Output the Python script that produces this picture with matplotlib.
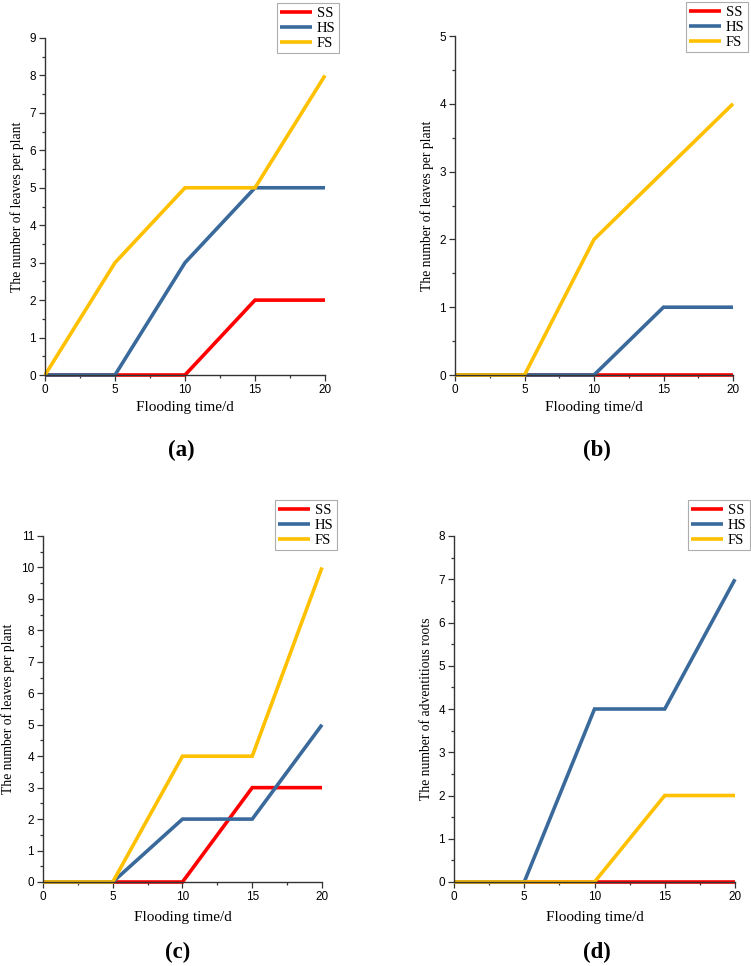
import matplotlib
matplotlib.use("Agg")
import matplotlib.pyplot as plt
from matplotlib.ticker import MultipleLocator

days = [0, 5, 10, 15, 20]
series_names = ["SS", "HS", "FS"]
colors = ["#FF0000", "#3A6A9C", "#FFC000"]

a_SS = [0, 0, 0, 2, 2]
a_HS = [0, 0, 3, 5, 5]
a_FS = [0, 3, 5, 5, 8]

b_SS = [0, 0, 0, 0, 0]
b_HS = [0, 0, 0, 1, 1]
b_FS = [0, 0, 2, 3, 4]

c_SS = [0, 0, 0, 3, 3]
c_HS = [0, 0, 2, 2, 5]
c_FS = [0, 0, 4, 4, 10]

d_SS = [0, 0, 0, 0, 0]
d_HS = [0, 0, 4, 4, 7]
d_FS = [0, 0, 0, 2, 2]

W, H = 751, 966
fig = plt.figure(figsize=(W / 100, H / 100), dpi=100)

serif = ["Liberation Serif", "DejaVu Serif"]
sans = ["Liberation Sans", "DejaVu Sans"]

panels = [
    # axes px (left, right, top, bottom), ymax, ylabel, data, tag, legend top-right px, tag (x,y), xlabel y
    ((45, 325, 38, 375), 9, "The number of leaves per plant", (a_SS, a_HS, a_FS), "(a)", (339, 3), (181, 450), 408),
    ((455, 733, 36, 375), 5, "The number of leaves per plant", (b_SS, b_HS, b_FS), "(b)", (748, 2), (597, 450), 408),
    ((43, 322, 536, 882), 11, "The number of leaves per plant", (c_SS, c_HS, c_FS), "(c)", (337, 500), (178, 952), 917),
    ((454, 735, 536, 882), 8, "The number of adventitious roots", (d_SS, d_HS, d_FS), "(d)", (750, 500), (597, 952), 917),
]

for (l, r, t, b), ymax, ylab, data, tag, lg, tagxy, xly in panels:
    ax = fig.add_axes([l / W, 1 - b / H, (r - l) / W, (b - t) / H])
    handles = []
    for name, vals, col in zip(series_names, data, colors):
        h, = ax.plot(days, vals, color=col, lw=2.6, label=name, solid_capstyle="butt",
                     solid_joinstyle="miter", clip_on=False)
        handles.append(h)
    ax.set_xlim(0, 20)
    ax.set_ylim(0, ymax)
    ax.xaxis.set_major_locator(MultipleLocator(5))
    ax.xaxis.set_minor_locator(MultipleLocator(2.5))
    ax.yaxis.set_major_locator(MultipleLocator(1))
    ax.yaxis.set_minor_locator(MultipleLocator(0.5))
    for s in ["top", "right"]:
        ax.spines[s].set_visible(False)
    for s in ["left", "bottom"]:
        ax.spines[s].set_color("#333333")
        ax.spines[s].set_linewidth(1.0)
    ax.tick_params(which="major", direction="out", length=4, width=0.9, color="#333333",
                   labelsize=8.5, pad=2.5)
    ax.tick_params(which="minor", direction="out", length=2.5, width=0.9, color="#333333")
    for lab in ax.get_xticklabels() + ax.get_yticklabels():
        lab.set_fontfamily(sans)
    ax.set_ylabel(ylab, fontsize=9.8, family=serif, labelpad=4)
    xc = (l + r) / 2
    fig.text(xc / W, 1 - xly / H, "Flooding time/d", ha="center", va="center",
             fontsize=11, family=serif)
    fig.text(tagxy[0] / W, 1 - tagxy[1] / H, tag, ha="center", va="center", fontsize=16.5,
             fontweight="bold", family=serif)
    lx1, ly0 = lg
    leg = fig.legend(handles=handles, loc="upper right",
                     bbox_to_anchor=(lx1 / W, 1 - ly0 / H),
                     frameon=True, fancybox=False, handlelength=2.2,
                     handletextpad=0.3, borderpad=0.25, labelspacing=0.12,
                     prop={"family": serif, "size": 10.5}, borderaxespad=0)
    leg.get_frame().set_edgecolor("#999999")
    leg.get_frame().set_linewidth(0.8)

fig.savefig("out.png", dpi=100)
